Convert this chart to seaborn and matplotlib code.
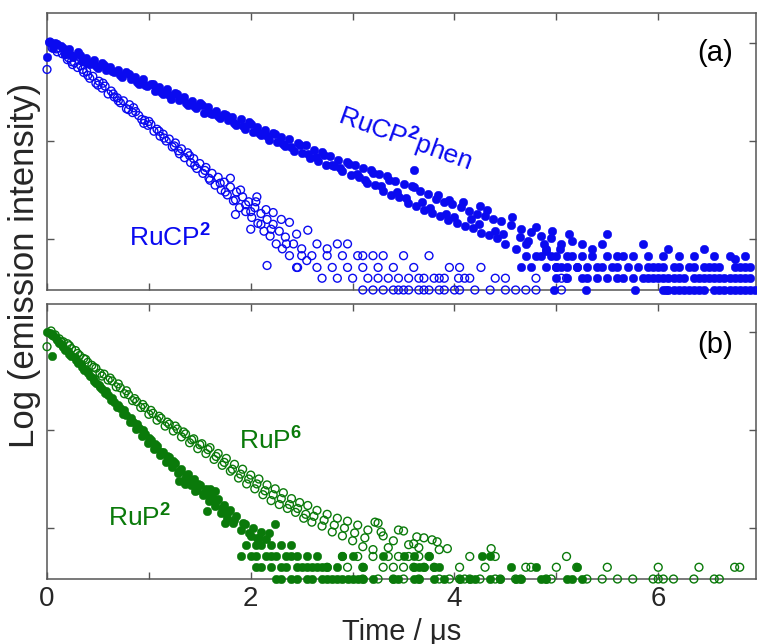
import numpy as np
import matplotlib
matplotlib.use("Agg")
import matplotlib.pyplot as plt
import seaborn as sns

# log(intensity) in decades, 0 = first tick; time in microseconds
BLUE = "#0a0af0"
GREEN = "#0a7a0a"

# quantised noise-floor levels (decades)
LV1, LV2, LV3, LV4 = -2.52, -2.40, -2.29, -2.17

# ---- panel (a): RuCP2phen, filled ----
phen_t = [0.00, 0.02, 0.06, 0.10, 0.14, 0.18, 0.22, 0.26, 0.30, 0.34, 0.38, 0.42, 0.46, 0.50,
          0.54, 0.58, 0.62, 0.66, 0.70, 0.74, 0.78, 0.82, 0.86, 0.90, 0.94, 0.98, 1.02, 1.06,
          1.10, 1.14, 1.18, 1.22, 1.26, 1.30, 1.34, 1.38, 1.42, 1.46, 1.50, 1.54, 1.58, 1.62,
          1.66, 1.70, 1.74, 1.78, 1.82, 1.86, 1.90, 1.94, 1.98, 2.02, 2.06, 2.10, 2.14, 2.18,
          2.22, 2.26, 2.30, 2.34, 2.38, 2.42, 2.46, 2.50, 2.54, 2.58, 2.62, 2.66, 2.70, 2.74,
          2.78, 2.82, 2.86, 2.90, 2.94, 2.98, 3.02, 3.06, 3.10, 3.14, 3.18, 3.22, 3.26, 3.30,
          3.34, 3.38, 3.42, 3.46, 3.50, 3.54, 3.58, 3.62, 3.66, 3.70, 3.74, 3.78, 3.82, 3.86,
          3.90, 3.94, 3.98, 4.02, 4.06, 4.10, 4.14, 4.18, 4.22, 4.26, 4.30, 4.34, 4.38, 4.42,
          4.46, 4.50, 4.55, 4.60, 4.65, 4.70, 4.75, 4.80, 4.85, 4.90, 4.95, 5.00, 5.05, 5.10,
          5.15, 5.20, 5.50, 5.85, 6.10, 6.45, 6.75, 4.90, 3.60, 3.95, 4.25]
phen_y = [-0.14, 0.01, -0.05, -0.01, -0.03, -0.11, -0.06, -0.14, -0.09, -0.18, -0.15, -0.21, -0.17, -0.25,
          -0.20, -0.28, -0.24, -0.30, -0.28, -0.35, -0.30, -0.37, -0.35, -0.42, -0.37, -0.44, -0.42, -0.49,
          -0.45, -0.52, -0.47, -0.57, -0.51, -0.58, -0.55, -0.63, -0.59, -0.66, -0.61, -0.71, -0.65, -0.72,
          -0.69, -0.77, -0.72, -0.79, -0.76, -0.84, -0.78, -0.88, -0.81, -0.91, -0.86, -0.94, -0.89, -0.99,
          -0.92, -1.01, -0.96, -1.05, -0.98, -1.10, -1.02, -1.12, -1.04, -1.17, -1.09, -1.20, -1.11, -1.24,
          -1.15, -1.26, -1.19, -1.31, -1.21, -1.35, -1.24, -1.37, -1.28, -1.43, -1.30, -1.45, -1.34, -1.51,
          -1.36, -1.55, -1.41, -1.57, -1.44, -1.63, -1.46, -1.66, -1.51, -1.70, -1.54, -1.73, -1.59, -1.76,
          -1.62, -1.81, -1.64, -1.84, -1.67, -1.87, -1.71, -1.89, -1.74, -1.94, -1.76, -1.96, -1.80, -1.99,
          -1.82, -2.05, -1.86, -2.10, -1.90, -2.05, -1.93, -2.17, -1.97, -2.12, -1.99, -2.29, -2.05, -2.17,
          -2.02, -2.29, -1.95, -2.05, -2.10, -2.10, -2.20, -2.10, -1.30, -1.60, -1.66]
phen_t2 = [0.08, 0.16, 0.24, 0.32, 0.40, 0.48, 0.56, 0.64, 0.72, 0.80, 0.88, 0.96, 1.04, 1.12,
           1.20, 1.28, 1.36, 1.44, 1.52, 1.60, 1.68, 1.76, 1.84, 1.92, 2.00, 2.08, 2.16, 2.24,
           2.32, 2.40, 2.48, 2.56, 2.64, 2.72, 2.80, 2.88, 2.96, 3.04, 3.12, 3.20, 3.28, 3.36,
           3.44, 3.52, 3.60, 3.68, 3.76, 3.84, 3.92, 4.00, 4.08, 4.16, 4.24, 4.32, 4.40, 4.48,
           4.56, 4.64, 4.72, 4.80, 4.88, 4.96, 5.04, 5.12, 5.25, 5.35, 5.45]
phen_y2 = [0.00, -0.05, -0.12, -0.12, -0.20, -0.23, -0.22, -0.29, -0.33, -0.32, -0.40, -0.43, -0.42, -0.50,
           -0.53, -0.52, -0.61, -0.64, -0.63, -0.71, -0.74, -0.73, -0.82, -0.85, -0.83, -0.92, -0.95, -0.93,
           -1.03, -1.06, -1.04, -1.13, -1.16, -1.14, -1.24, -1.28, -1.23, -1.34, -1.40, -1.33, -1.46, -1.40,
           -1.52, -1.58, -1.47, -1.62, -1.68, -1.55, -1.74, -1.78, -1.62, -1.80, -1.85, -1.70, -1.92, -1.95,
           -1.78, -1.98, -2.02, -1.88, -2.05, -1.92, -2.10, -1.95, -2.05, -2.10, -2.05]
phen_lv4 = [4.70, 4.85, 4.95, 5.00, 5.15, 5.25, 5.35, 5.50, 5.60, 5.65, 5.75, 5.90, 6.05, 6.20,
            6.35, 6.55, 6.70, 6.85]
phen_lv3 = [4.65, 4.75, 4.90, 5.00, 5.05, 5.10, 5.20, 5.30, 5.40, 5.45, 5.55, 5.60, 5.70, 5.80,
            5.90, 5.95, 6.00, 6.05, 6.15, 6.20, 6.30, 6.35, 6.45, 6.50, 6.55, 6.60, 6.75, 6.80,
            6.85, 6.90]
phen_lv2 = [5.00, 5.10, 5.25, 5.30, 5.40, 5.50, 5.60, 5.65, 5.75, 5.85, 5.90, 5.95, 6.00, 6.05,
            6.10, 6.15, 6.20, 6.25, 6.35, 6.40, 6.45, 6.50, 6.55, 6.60, 6.65, 6.70, 6.75, 6.80,
            6.85, 6.90]
phen_lv1 = [4.98, 5.29, 5.77, 6.05, 6.08, 6.10, 6.15, 6.20, 6.25, 6.30, 6.35, 6.40, 6.45, 6.55,
            6.60, 6.65, 6.70, 6.75, 6.80, 6.85, 6.90, 6.95]

# ---- panel (a): RuCP2, open ----
cp2_t = [0.00, 0.03, 0.06, 0.09, 0.12, 0.15, 0.18, 0.21, 0.24, 0.27, 0.30, 0.33, 0.36, 0.39,
         0.42, 0.45, 0.48, 0.51, 0.54, 0.57, 0.60, 0.63, 0.66, 0.69, 0.72, 0.75, 0.78, 0.81,
         0.84, 0.87, 0.90, 0.93, 0.96, 0.99, 1.02, 1.05, 1.08, 1.11, 1.14, 1.17, 1.20, 1.23,
         1.26, 1.29, 1.32, 1.35, 1.38, 1.41, 1.44, 1.47, 1.50, 1.53, 1.56, 1.59, 1.62, 1.65,
         1.68, 1.71, 1.74, 1.77, 1.80, 1.83, 1.86, 1.89, 1.92, 1.95, 1.98, 2.01, 2.04, 2.07,
         2.10, 2.13, 2.16, 2.19, 2.22, 2.25, 2.28, 2.31, 2.34, 2.38, 2.42, 2.46, 2.50, 2.55,
         2.06, 2.22, 2.38, 2.56, 2.85, 2.16, 1.85, 2.00]
cp2_y = [-0.27, 0.01, -0.02, -0.06, -0.05, -0.11, -0.12, -0.15, -0.19, -0.20, -0.25, -0.23, -0.30, -0.29,
         -0.36, -0.34, -0.41, -0.39, -0.46, -0.44, -0.52, -0.49, -0.55, -0.56, -0.61, -0.59, -0.67, -0.63,
         -0.71, -0.70, -0.74, -0.78, -0.79, -0.84, -0.83, -0.90, -0.88, -0.95, -0.93, -1.00, -0.98, -1.06,
         -1.02, -1.10, -1.08, -1.17, -1.12, -1.22, -1.18, -1.28, -1.23, -1.33, -1.27, -1.38, -1.33, -1.45,
         -1.37, -1.50, -1.42, -1.55, -1.47, -1.61, -1.52, -1.68, -1.57, -1.72, -1.62, -1.78, -1.68, -1.84,
         -1.74, -1.92, -1.80, -1.97, -1.85, -2.05, -1.92, -2.10, -1.98, -2.17, -2.05, -2.29, -2.10, -2.22,
         -1.57, -1.73, -1.83, -1.91, -2.05, -2.27, -1.75, -1.90]
cp2_t2 = [0.05, 0.10, 0.20, 0.25, 0.35, 0.40, 0.50, 0.55, 0.65, 0.70, 0.80, 0.85, 0.95, 1.00,
          1.10, 1.15, 1.25, 1.30, 1.40, 1.45, 1.55, 1.60, 1.70, 1.75, 1.80, 1.85, 1.90, 1.95,
          2.00, 2.05, 2.10, 2.15, 2.20, 2.30, 2.35, 2.45, 2.50, 2.65, 2.75, 2.95, 3.10]
cp2_y2 = [-0.05, -0.09, -0.17, -0.22, -0.27, -0.33, -0.43, -0.41, -0.52, -0.59, -0.68, -0.66, -0.82, -0.80,
          -0.90, -0.97, -1.05, -1.13, -1.15, -1.25, -1.30, -1.40, -1.43, -1.52, -1.38, -1.60, -1.50, -1.65,
          -1.72, -1.62, -1.85, -1.70, -1.90, -1.80, -2.05, -1.95, -2.17, -2.05, -2.10, -2.05, -2.17]
cp2_lv4 = [2.60, 2.75, 2.90, 3.05, 3.20, 3.30, 3.50, 3.75]
cp2_lv3 = [2.45, 2.65, 2.80, 2.95, 3.10, 3.25, 3.40, 3.60, 3.95, 4.05, 4.26]
cp2_lv2 = [2.70, 2.85, 3.00, 3.15, 3.25, 3.35, 3.45, 3.55, 3.65, 3.70, 3.80, 3.85, 3.90, 4.04,
           4.10, 4.15, 4.40, 4.50, 4.80, 5.05, 5.10]
cp2_lv1 = [3.10, 3.20, 3.30, 3.40, 3.45, 3.50, 3.55, 3.65, 3.70, 3.75, 3.85, 3.90, 4.00, 4.05,
           4.20, 4.35, 4.50, 4.60, 4.70, 4.80, 5.05]

# ---- panel (b): RuP2, filled ----
p2_t = [0.00, 0.03, 0.05, 0.06, 0.09, 0.12, 0.15, 0.18, 0.21, 0.24, 0.27, 0.30, 0.33, 0.36,
        0.39, 0.42, 0.45, 0.48, 0.51, 0.54, 0.57, 0.60, 0.63, 0.66, 0.69, 0.72, 0.75, 0.78,
        0.81, 0.84, 0.87, 0.90, 0.93, 0.96, 0.99, 1.02, 1.05, 1.08, 1.11, 1.14, 1.17, 1.20,
        1.23, 1.26, 1.29, 1.32, 1.35, 1.38, 1.41, 1.44, 1.47, 1.50, 1.53, 1.56, 1.59, 1.62,
        1.65, 1.68, 1.71, 1.74, 1.77, 1.80, 1.83, 1.86, 1.90, 1.94, 1.98, 2.02, 2.06, 2.10,
        2.15, 2.24, 1.57, 1.30, 1.45, 1.60]
p2_y = [0.00, -0.01, -0.25, -0.03, -0.06, -0.11, -0.13, -0.18, -0.19, -0.25, -0.26, -0.32, -0.33, -0.39,
        -0.40, -0.45, -0.47, -0.52, -0.54, -0.58, -0.62, -0.64, -0.69, -0.71, -0.77, -0.78, -0.84, -0.85,
        -0.92, -0.92, -0.99, -0.98, -1.06, -1.04, -1.13, -1.10, -1.19, -1.16, -1.26, -1.22, -1.33, -1.28,
        -1.38, -1.34, -1.44, -1.40, -1.50, -1.45, -1.56, -1.50, -1.61, -1.56, -1.66, -1.60, -1.72, -1.65,
        -1.78, -1.70, -1.85, -1.76, -1.90, -1.82, -1.95, -1.88, -2.02, -1.96, -2.05, -2.00, -2.10, -2.04,
        -2.11, -1.96, -1.83, -1.52, -1.62, -1.60]
p2_t2 = [0.04, 0.10, 0.16, 0.22, 0.28, 0.34, 0.40, 0.46, 0.52, 0.58, 0.64, 0.70, 0.76, 0.82,
         0.88, 0.94, 1.00, 1.06, 1.12, 1.18, 1.24, 1.30, 1.36, 1.42, 1.48, 1.54, 1.60, 1.66,
         1.72, 1.78, 1.84, 1.92, 2.00, 2.08, 2.18, 1.35, 1.65, 1.75]
p2_y2 = [-0.02, -0.08, -0.15, -0.22, -0.29, -0.36, -0.42, -0.50, -0.56, -0.60, -0.67, -0.74, -0.80, -0.88,
         -0.94, -1.00, -1.08, -1.14, -1.22, -1.27, -1.32, -1.42, -1.46, -1.52, -1.55, -1.64, -1.68, -1.72,
         -1.80, -1.84, -1.92, -1.95, -2.08, -2.10, -2.05, -1.55, -1.62, -1.95]
p2_lv4 = [1.95, 2.05, 2.10, 2.20, 2.30, 2.40]
p2_lv3 = [1.90, 2.00, 2.05, 2.15, 2.20, 2.25, 2.35, 2.40, 2.45, 2.55, 2.65, 2.90, 3.00, 3.30,
          3.50, 3.60, 3.75, 4.27, 4.35]
p2_lv2 = [2.05, 2.10, 2.20, 2.30, 2.35, 2.45, 2.50, 2.55, 2.60, 2.65, 2.70, 2.75, 2.85, 3.10,
          3.60, 3.65, 3.70, 3.80, 3.85, 4.55, 4.80, 5.20]
p2_lv1 = [2.25, 2.30, 2.40, 2.45, 2.55, 2.60, 2.70, 2.75, 2.80, 2.85, 2.90, 2.95, 3.00, 3.05,
          3.10, 3.20, 3.40, 3.45, 3.60, 3.65, 3.80, 3.90, 4.05, 4.15, 4.20, 4.35, 4.45, 4.60,
          4.65, 4.85, 4.90, 5.10, 5.15, 5.25]

# ---- panel (b): RuP6, open ----
p6_t = [0.00, 0.04, 0.08, 0.12, 0.16, 0.20, 0.24, 0.28, 0.32, 0.36, 0.40, 0.44, 0.48, 0.52,
        0.56, 0.60, 0.64, 0.68, 0.72, 0.76, 0.80, 0.84, 0.88, 0.92, 0.96, 1.00, 1.04, 1.08,
        1.12, 1.16, 1.20, 1.24, 1.28, 1.32, 1.36, 1.40, 1.44, 1.48, 1.52, 1.56, 1.60, 1.64,
        1.68, 1.72, 1.76, 1.80, 1.84, 1.88, 1.92, 1.96, 2.00, 2.04, 2.08, 2.12, 2.16, 2.20,
        2.24, 2.28, 2.32, 2.36, 2.40, 2.44, 2.48, 2.52, 2.56, 2.60, 2.65, 2.70, 2.75, 2.80,
        2.85, 2.90, 2.95, 3.00, 3.05, 3.10, 3.15, 3.20, 3.25, 3.30, 3.40, 3.50, 3.60, 3.70,
        3.78, 3.85, 3.22, 3.28, 3.63, 3.83, 3.93, 4.36, 5.10]
p6_y = [-0.15, 0.01, -0.03, -0.07, -0.10, -0.12, -0.17, -0.19, -0.24, -0.27, -0.31, -0.34, -0.37, -0.42,
        -0.43, -0.49, -0.50, -0.56, -0.57, -0.63, -0.64, -0.70, -0.71, -0.77, -0.77, -0.84, -0.83, -0.90,
        -0.88, -0.96, -0.94, -1.01, -0.99, -1.07, -1.04, -1.13, -1.09, -1.19, -1.14, -1.24, -1.18, -1.30,
        -1.24, -1.36, -1.29, -1.42, -1.35, -1.49, -1.40, -1.55, -1.46, -1.60, -1.50, -1.66, -1.56, -1.72,
        -1.60, -1.76, -1.64, -1.80, -1.70, -1.84, -1.74, -1.90, -1.77, -1.94, -1.82, -1.98, -1.86, -2.04,
        -1.90, -2.08, -1.93, -2.13, -1.97, -2.19, -2.02, -2.22, -1.95, -2.08, -2.13, -2.03, -2.16, -2.10,
        -2.12, -2.22, -1.94, -2.04, -2.09, -2.14, -2.21, -2.21, -2.29]
p6_t2 = [0.06, 0.14, 0.22, 0.30, 0.38, 0.46, 0.54, 0.62, 0.70, 0.78, 0.86, 0.94, 1.02, 1.10,
         1.18, 1.26, 1.34, 1.42, 1.50, 1.58, 1.66, 1.74, 1.82, 1.90, 1.98, 2.06, 2.14, 2.22,
         2.30, 2.38, 2.46, 2.54, 2.62, 2.72, 2.82, 2.92, 3.02, 3.12, 3.35, 3.45, 3.55, 3.65]
p6_y2 = [-0.04, -0.10, -0.14, -0.22, -0.28, -0.36, -0.45, -0.47, -0.53, -0.60, -0.68, -0.74, -0.80, -0.86,
         -0.92, -0.96, -1.02, -1.10, -1.15, -1.20, -1.27, -1.33, -1.40, -1.45, -1.50, -1.55, -1.62, -1.66,
         -1.70, -1.76, -1.80, -1.86, -1.88, -1.92, -1.97, -2.00, -2.05, -2.10, -2.20, -2.02, -2.17, -2.20]
p6_lv3 = [2.90, 3.05, 3.20, 3.35, 3.45, 3.55, 3.65, 3.75, 4.15, 4.40]
p6_lv2 = [2.75, 2.95, 3.10, 3.30, 3.40, 3.50, 3.60, 3.70, 3.80, 4.05, 4.30, 4.70, 4.75, 5.00,
          5.20, 5.50, 6.00, 6.40, 6.75, 6.80]
p6_lv1 = [3.10, 3.25, 3.40, 3.50, 3.65, 3.85, 3.95, 4.05, 4.10, 4.15, 4.25, 4.40, 4.45, 4.60,
          4.65, 4.90, 4.95, 5.30, 5.45, 5.60, 5.75, 5.95, 6.00, 6.05, 6.15, 6.35, 6.55, 6.60]

x_ticks = [0, 1, 2, 3, 4, 5, 6]
x_ticklabels = ["0", "", "2", "", "4", "", "6"]
y_ticks = [0, -1, -2]


def Collect(parts, levels):
    # decay points plus the points sitting on the quantised floor levels
    xs, ys = [], []
    for t, y in parts:
        xs += list(t)
        ys += list(y)
    for value, times in levels:
        xs += list(times)
        ys += [value] * len(times)
    return np.array(xs), np.array(ys)


def DrawSeries(ax, x, y, color, filled):
    if filled:
        sns.scatterplot(x=x, y=y, ax=ax, s=38, color=color, edgecolor=color,
                        linewidth=0.3, clip_on=False, zorder=3)
    else:
        sns.scatterplot(x=x, y=y, ax=ax, s=32, facecolor="none", edgecolor=color,
                        linewidth=1.0, clip_on=False, zorder=3)


def StyleAxes(ax, ylim, show_labels):
    ax.set_xlim(0, 6.96)
    ax.set_ylim(*ylim)
    ax.set_xticks(x_ticks)
    ax.set_yticks(y_ticks)
    ax.set_yticklabels([])
    if show_labels:
        ax.set_xticklabels(x_ticklabels)
    else:
        ax.set_xticklabels([])
    ax.tick_params(direction="in", length=5, width=1.0, color="#555555",
                   top=True, right=True, labelsize=20, pad=5)
    for sp in ax.spines.values():
        sp.set_visible(True)
        sp.set_color("#555555")
        sp.set_linewidth(1.1)


def PlotGraph():
    sns.set_style("ticks")
    plt.rcParams["font.family"] = ["Liberation Sans", "DejaVu Sans"]
    plt.rcParams["mathtext.fontset"] = "custom"
    plt.rcParams["mathtext.rm"] = "Liberation Sans"
    plt.rcParams["mathtext.bf"] = "Liberation Sans:bold"

    fig = plt.figure(figsize=(7.57, 6.44), dpi=100)
    ax_a = fig.add_axes([0.0621, 0.5497, 0.9366, 0.4301])
    ax_b = fig.add_axes([0.0621, 0.1009, 0.9366, 0.4270])

    x, y = Collect([(phen_t, phen_y), (phen_t2, phen_y2)],
                   [(LV4, phen_lv4), (LV3, phen_lv3), (LV2, phen_lv2), (LV1, phen_lv1)])
    DrawSeries(ax_a, x, y, BLUE, True)
    x, y = Collect([(cp2_t, cp2_y), (cp2_t2, cp2_y2)],
                   [(LV4, cp2_lv4), (LV3, cp2_lv3), (LV2, cp2_lv2), (LV1, cp2_lv1)])
    DrawSeries(ax_a, x, y, BLUE, False)

    x, y = Collect([(p6_t, p6_y), (p6_t2, p6_y2)],
                   [(LV3, p6_lv3), (LV2, p6_lv2), (LV1, p6_lv1)])
    DrawSeries(ax_b, x, y, GREEN, False)
    x, y = Collect([(p2_t, p2_y), (p2_t2, p2_y2)],
                   [(LV4, p2_lv4), (LV3, p2_lv3), (LV2, p2_lv2), (LV1, p2_lv1)])
    DrawSeries(ax_b, x, y, GREEN, True)

    StyleAxes(ax_a, (-2.52, 0.306), False)
    StyleAxes(ax_b, (-2.52, 0.285), True)

    # labels on the curves
    ax_a.text(3.52, -0.97, r"RuCP$^{\mathbf{2}}$phen", color=BLUE, fontsize=19,
              rotation=-20, rotation_mode="anchor", ha="center", va="center")
    ax_a.text(1.21, -1.98, r"RuCP$^{\mathbf{2}}$", color=BLUE, fontsize=19,
              ha="center", va="center")
    ax_a.text(6.56, -0.10, "(a)", color="black", fontsize=21, ha="center", va="center")

    ax_b.text(2.19, -1.10, r"RuP$^{\mathbf{6}}$", color=GREEN, fontsize=19,
              ha="center", va="center")
    ax_b.text(0.91, -1.88, r"RuP$^{\mathbf{2}}$", color=GREEN, fontsize=19,
              ha="center", va="center")
    ax_b.text(6.56, -0.13, "(b)", color="black", fontsize=21, ha="center", va="center")

    ax_b.set_xlabel("Time / μs", fontsize=21, labelpad=4)
    fig.text(0.033, 0.588, "Log (emission intensity)", rotation=90, fontsize=25,
             ha="center", va="center")

    fig.savefig("out.png", dpi=100)


def main():
    PlotGraph()


if __name__ == "__main__":
    main()
